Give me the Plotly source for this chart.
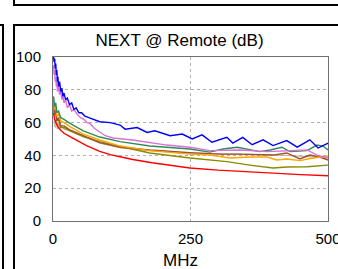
import plotly.graph_objects as go

# ---- data (MHz, dB) ----
blue_f = [1, 2, 3, 4, 5, 6, 7, 8, 9, 10, 12, 14, 16, 18, 20, 23, 26, 30, 34, 38, 42, 47, 52, 58, 65, 72, 85, 104, 122, 131, 142, 153, 171, 185, 213, 235, 253, 271, 289, 316, 327, 345, 362, 382, 400, 425, 444, 467, 482, 491, 500]
blue_db = [100, 97, 99, 93, 96, 89, 92, 85, 88, 82, 85, 79, 81, 76, 78, 74, 75, 71, 72, 68, 69, 66, 66, 64, 63, 62, 60.5, 60, 58.5, 56, 56.5, 57, 54, 55, 52, 53, 50, 52.5, 48, 51, 47.5, 51, 46.5, 49.5, 46, 49, 45, 49.5, 44.5, 46, 47.5]

orchid_f = [1, 2, 3, 4, 5, 6, 7, 8, 10, 12, 14, 16, 18, 20, 23, 26, 30, 34, 38, 44, 50, 56, 62, 67, 75, 85, 95, 109, 145, 207, 249, 285, 340, 389, 425, 462, 480, 500]
orchid_db = [95, 89, 92, 85, 88, 82, 85, 79, 82, 77, 80, 74, 77, 72, 74, 69, 71, 67, 68, 65, 63, 62, 60, 59.5, 56.5, 54, 52, 50.6, 49.4, 46.3, 45, 42.9, 43.3, 42.3, 42.9, 43.3, 40.2, 38.4]

green_f = [1, 3, 5, 7, 10, 14, 20, 31, 55, 85, 122, 176, 225, 249, 285, 309, 335, 358, 376, 395, 416, 431, 462, 480, 491, 500]
green_db = [76, 70, 72, 66, 67, 63, 62, 59.5, 55, 51.2, 48.4, 45.7, 44.5, 43.9, 42, 43.9, 45, 43.3, 42.3, 43.3, 45, 42.3, 42.9, 46.3, 45.7, 43.3]

orange_f = [1, 3, 5, 7, 10, 14, 20, 31, 55, 85, 122, 176, 249, 285, 322, 358, 389, 407, 425, 449, 473, 500]
orange_db = [74, 68, 70, 64, 65, 61, 60, 57.5, 53, 49.4, 45.7, 42.9, 40.8, 40.2, 38.4, 39, 39, 37.2, 37.8, 36.8, 38.4, 39.6]

brown_f = [1, 3, 5, 7, 10, 14, 20, 31, 55, 85, 122, 176, 249, 304, 340, 376, 400, 425, 449, 467, 485, 500]
brown_db = [72, 65, 68, 61, 63, 58, 58, 55.5, 52, 47.8, 45, 43.3, 41.7, 40.8, 40.8, 40.2, 40.2, 41.5, 37.8, 40.2, 39, 37.2]

olive_f = [1, 3, 5, 7, 10, 14, 20, 31, 55, 85, 135, 176, 249, 316, 358, 400, 425, 462, 500]
olive_db = [73, 66, 67, 61, 62, 57, 57, 55, 51.5, 48.4, 44.5, 41.5, 38.4, 36.2, 34.1, 32.3, 32.9, 33.1, 34.1]

tan_f = [1, 2, 4, 6, 8, 10, 13, 16, 20, 31, 55, 85, 122, 176, 249, 340, 425, 500]
tan_db = [68, 62, 57, 61, 56, 60, 57, 58, 56, 55, 51.5, 47.5, 44.8, 43, 41.3, 40.5, 40, 38.5]

red_f = [1, 3, 6, 10, 15, 20, 31, 45, 61, 85, 104, 122, 145, 180, 249, 300, 350, 389, 450, 500]
red_db = [66, 62, 59.5, 57, 55, 53.5, 51.5, 49, 46, 42.5, 40.5, 39.2, 37.5, 35.5, 32.3, 31, 30, 29.3, 28.3, 27.6]

x_ticks = [0, 250, 500]
y_ticks = [0, 20, 40, 60, 80, 100]

series = [
    (tan_f, tan_db, "#c8b49a"),
    (red_f, red_db, "#ff0000"),
    (olive_f, olive_db, "#8b8b00"),
    (brown_f, brown_db, "#a0522d"),
    (orange_f, orange_db, "#ffa500"),
    (green_f, green_db, "#2e8b57"),
    (orchid_f, orchid_db, "#da70d6"),
    (blue_f, blue_db, "#0000ff"),
]

fig = go.Figure()
for fx, fy, col in series:
    fig.add_trace(go.Scatter(x=fx, y=fy, mode="lines",
                             line=dict(color=col, width=1.4), showlegend=False,
                             hoverinfo="skip"))

L, R, T, B = 53, 328, 57, 221
W, H = 338, 269

def px(x):
    return (x - L) / (R - L)

def py(y):
    return (B - y) / (B - T)

shapes = []
def bar(x0, y0, x1, y1):
    # solid black strip used as a panel border
    shapes.append(dict(type="rect", xref="paper", yref="paper",
                       x0=px(x0), y0=py(y0), x1=px(x1), y1=py(y1),
                       line=dict(width=0), fillcolor="black", layer="above"))

# panel above: bottom edge and left edge
bar(13, 4, 338, 6)
bar(13, 0, 15, 6)
# current panel: top edge and left edge
bar(13, 24, 338, 26)
bar(13, 24, 15, 269)
# panel to the left: top edge and right edge
bar(0, 24, 4, 26)
bar(2, 24, 4, 269)

fig.update_layout(
    width=W, height=H,
    margin=dict(l=L, r=W - R, t=T, b=H - B, pad=0, autoexpand=False),
    paper_bgcolor="white", plot_bgcolor="white",
    font=dict(family="Liberation Sans, Arial", color="black", size=15),
    shapes=shapes,
    title=dict(text="NEXT @ Remote (dB)", x=179.5 / W, xref="container",
               y=1 - 40 / H, yref="container", xanchor="center", yanchor="middle",
               font=dict(size=17, color="black"), automargin=False),
    annotations=[dict(text="MHz", xref="paper", yref="paper",
                      x=px(180), y=py(260), showarrow=False,
                      xanchor="center", yanchor="middle",
                      font=dict(size=17, color="black"))],
)
fig.update_xaxes(range=[0, 500], tickvals=x_ticks, showgrid=True,
                 gridcolor="#b0b0b0", griddash="dot", gridwidth=1,
                 showline=True, linecolor="#707070", linewidth=1, mirror=True,
                 zeroline=False, ticks="", ticklabelstandoff=4,
                 ticklabeloverflow="allow", automargin=False)
fig.update_yaxes(range=[0, 100], tickvals=y_ticks, showgrid=True,
                 gridcolor="#b0b0b0", griddash="dot", gridwidth=1,
                 showline=True, linecolor="#707070", linewidth=1, mirror=True,
                 zeroline=False, ticks="", ticklabelstandoff=8,
                 ticklabeloverflow="allow", automargin=False)

fig.write_html("out.html", config={"displayModeBar": False},
               post_script="document.body.style.margin='0';document.body.style.overflow='hidden';")
